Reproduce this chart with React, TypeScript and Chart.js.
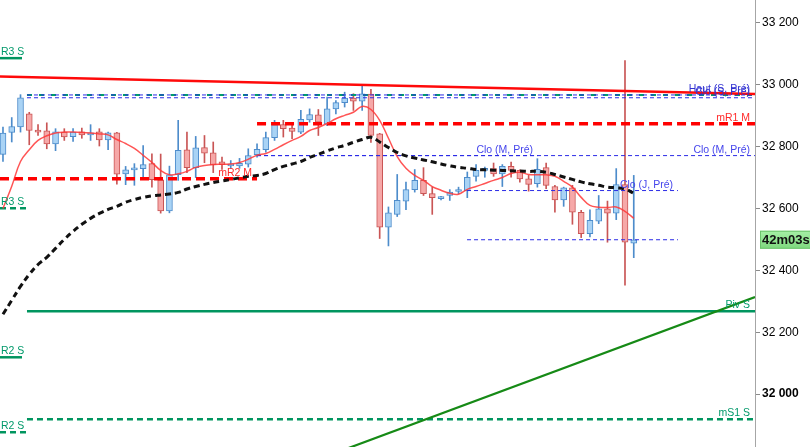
import React, { useEffect, useRef } from 'react';
import { Chart, registerables } from 'chart.js';

Chart.register(...registerables);

// ---- Candles (one per period, index = position) ----
const opens = [
  32775, 32846, 32864, 32906, 32852, 32851, 32809, 32847, 32832, 32848,
  32838, 32848, 32822, 32845, 32712, 32725, 32729, 32745, 32693, 32592,
  32709, 32790, 32732, 32797, 32780, 32751, 32738, 32738, 32743, 32774,
  32790, 32829, 32871, 32860, 32847, 32886, 32903, 32873, 32922, 32942,
  32957, 32947, 32970, 32841, 32540, 32581, 32624, 32661, 32691, 32648,
  32632, 32642, 32655, 32658, 32704, 32723, 32729, 32712, 32736, 32723,
  32696, 32680, 32732, 32671, 32628, 32667, 32588, 32519, 32559, 32599,
  32585, 32677, 32488,
];
const highs = [
  32863, 32894, 32968, 32911, 32871, 32877, 32858, 32858, 32858, 32860,
  32871, 32858, 32847, 32846, 32736, 32745, 32803, 32777, 32776, 32737,
  32885, 32847, 32833, 32836, 32815, 32766, 32755, 32762, 32793, 32809,
  32847, 32885, 32885, 32874, 32917, 32922, 32920, 32960, 32949, 32976,
  32971, 32998, 32985, 32843, 32605, 32710, 32685, 32726, 32732, 32669,
  32639, 32661, 32669, 32718, 32742, 32734, 32747, 32742, 32750, 32725,
  32707, 32761, 32747, 32675, 32669, 32675, 32594, 32596, 32642, 32624,
  32729, 33078, 32707,
];
const lows = [
  32752, 32815, 32847, 32806, 32836, 32793, 32787, 32820, 32817, 32827,
  32820, 32802, 32790, 32679, 32677, 32675, 32696, 32669, 32585, 32586,
  32691, 32716, 32700, 32748, 32716, 32726, 32729, 32730, 32734, 32766,
  32782, 32820, 32831, 32826, 32842, 32879, 32836, 32868, 32906, 32928,
  32917, 32917, 32814, 32503, 32479, 32574, 32596, 32653, 32642, 32581,
  32628, 32626, 32648, 32635, 32688, 32701, 32704, 32671, 32701, 32685,
  32656, 32669, 32664, 32588, 32607, 32549, 32506, 32508, 32551, 32491,
  32564, 32352, 32441,
];
const closes = [
  32844, 32865, 32958, 32852, 32847, 32809, 32848, 32831, 32847, 32838,
  32844, 32822, 32845, 32711, 32725, 32730, 32742, 32693, 32592, 32709,
  32788, 32732, 32796, 32779, 32741, 32742, 32743, 32746, 32771, 32791,
  32829, 32871, 32858, 32849, 32888, 32904, 32879, 32922, 32942, 32957,
  32947, 32971, 32836, 32540, 32586, 32626, 32661, 32691, 32648, 32635,
  32637, 32653, 32659, 32701, 32723, 32727, 32712, 32736, 32723, 32696,
  32678, 32727, 32675, 32628, 32667, 32588, 32519, 32562, 32599, 32585,
  32677, 32491, 32499,
];

// ---- Moving averages ----
const maFast = [
  32600, 32672, 32752, 32790, 32820, 32835, 32844, 32847, 32847, 32846,
  32844, 32841, 32838, 32823, 32810, 32794, 32772, 32749, 32723, 32709,
  32712, 32720, 32733, 32739, 32742, 32743, 32744, 32749, 32759, 32772,
  32778, 32791, 32806, 32820, 32833, 32852, 32862, 32875, 32890, 32901,
  32911, 32930, 32920, 32885, 32827, 32768, 32730, 32707, 32691, 32671,
  32659, 32649, 32646, 32662, 32671, 32681, 32691, 32700, 32713, 32717,
  32710, 32709, 32709, 32704, 32688, 32669, 32636, 32610, 32604, 32603,
  32605, 32591, 32568,
];
const maSlow = [
  32258, 32303, 32348, 32387, 32419, 32442, 32471, 32500, 32526, 32549,
  32568, 32584, 32597, 32607, 32620, 32629, 32636, 32641, 32644, 32647,
  32652, 32663, 32671, 32678, 32684, 32689, 32694, 32699, 32704, 32707,
  32713, 32726, 32736, 32744, 32752, 32765, 32775, 32786, 32796, 32804,
  32814, 32823, 32830, 32815, 32797, 32781, 32770, 32763, 32757, 32751,
  32744, 32738, 32733, 32730, 32726, 32725, 32724, 32723, 32722, 32721,
  32720, 32720, 32717, 32710, 32702, 32694, 32686, 32680, 32675, 32669,
  32667, 32663, 32649,
];

// ---- Axis ----
const yTicks = [32000, 32200, 32400, 32600, 32800, 33000, 33200];
const boldTick = 32000;
const priceMin = 31829;
const priceMax = 33274;
const indexMin = -0.34;
const indexMax = 85.84;

// ---- Pivot / reference levels ----
const levelNames = [
  'Haut (S, Pré)', '', 'Clo (S, Pré)', 'mR1 M', 'Clo (M, Pré)', 'Clo (M, Pré)',
  'mR2 M', 'Clo (J, Pré)', '', 'Piv S', 'mS1 S', 'R3 S', 'R3 S', 'R2 S', 'R2 S',
];
const levelPrices = [
  32967, 32967, 32958, 32874, 32771, 32771,
  32696, 32658, 32499, 32268, 31919, 33086, 32601, 32119, 31877,
];
const levelStarts = [
  2.74, 2.74, 2.74, 29, 29, 29,
  -0.34, 52.97, 52.97, 2.74, 2.74, -0.34, -0.34, -0.34, -0.34,
];
const levelEnds = [
  85.84, 85.84, 85.84, 85.84, 85.84, 61.07,
  29, 77.05, 77.05, 85.84, 85.84, 2.17, 2.63, 2.17, 2.63,
];

// ---- Trend lines ----
const resistIdx = [-0.34, 85.84];
const resistPrice = [33027, 32970];
const supportIdx = [39.38, 85.84];
const supportPrice = [31825, 32314];

const timerText = '42m03s';

// ---------------- styles ----------------
const FONT = "'Liberation Sans', Arial, sans-serif";
const BLUE_TXT = '#4646ec';
const GREEN_TXT = '#00996a';
type LStyle = { color: string; width: number; dash: number[]; text: string; left?: boolean };
const S_BLUE: LStyle = { color: '#2b2be6', width: 1, dash: [4, 3], text: BLUE_TXT };
const S_GREEN_TOP: LStyle = { color: '#00a06a', width: 2, dash: [5, 7], text: GREEN_TXT };
const S_RED: LStyle = { color: '#ff0000', width: 3.5, dash: [9, 5], text: '#ff2a2a' };
const S_GREEN_SOLID: LStyle = { color: '#00955f', width: 2.5, dash: [], text: GREEN_TXT };
const S_GREEN_DASH: LStyle = { color: '#00955f', width: 2.5, dash: [6, 4], text: GREEN_TXT };
const levelStyles: LStyle[] = [
  { ...S_BLUE, text: '#3232d2' }, S_GREEN_TOP, { ...S_BLUE, text: '#3232d2' }, S_RED, S_BLUE, S_BLUE,
  S_RED, S_BLUE, S_BLUE, S_GREEN_SOLID, S_GREEN_DASH,
  { ...S_GREEN_SOLID, left: true }, { ...S_GREEN_DASH, left: true },
  { ...S_GREEN_SOLID, left: true }, { ...S_GREEN_DASH, left: true },
];

const fmt = (v: number) => String(Math.round(v)).replace(/\B(?=(\d{3})+(?!\d))/g, ' ');

const overlayPlugin = {
  id: 'overlayLabels',
  afterDraw(chart: any) {
    const { ctx, scales } = chart;
    const x = scales.x;
    const y = scales.y;
    ctx.save();
    ctx.font = `10.5px ${FONT}`;
    ctx.textBaseline = 'alphabetic';
    levelNames.forEach((name, i) => {
      if (!name) return;
      const st = levelStyles[i];
      const py = y.getPixelForValue(levelPrices[i]) - 3;
      ctx.fillStyle = st.text;
      if (st.left) {
        ctx.textAlign = 'left';
        ctx.fillText(name, x.getPixelForValue(levelStarts[i]) + 1, py);
      } else {
        ctx.textAlign = 'right';
        ctx.fillText(name, x.getPixelForValue(levelEnds[i]) - 5, py);
      }
    });
    // countdown badge on the price axis
    const last = closes[closes.length - 1];
    const cy = y.getPixelForValue(last);
    const bx = chart.chartArea.right + 5;
    const bw = chart.width - bx;
    const g = ctx.createLinearGradient(0, cy - 9, 0, cy + 9);
    g.addColorStop(0, '#a6f0a6');
    g.addColorStop(1, '#7ed87e');
    ctx.fillStyle = g;
    ctx.fillRect(bx, cy - 9, bw, 18);
    ctx.strokeStyle = '#6cc46c';
    ctx.lineWidth = 1;
    ctx.strokeRect(bx + 0.5, cy - 8.5, bw, 17);
    ctx.fillStyle = '#111';
    ctx.font = `bold 13px ${FONT}`;
    ctx.textAlign = 'left';
    ctx.textBaseline = 'middle';
    ctx.fillText(timerText, bx + 2, cy + 1);
    ctx.restore();
  },
};

export default function App() {
  const ref = useRef<HTMLCanvasElement | null>(null);

  useEffect(() => {
    if (!ref.current) return;
    const up = closes.map((c, i) => c >= opens[i]);
    const bodyFill = up.map((u) => (u ? '#a9d3f5' : '#f6a8a8'));
    const bodyBorder = up.map((u) => (u ? '#4d8ccb' : '#c95555'));

    const levelSets = levelPrices.map((p, i) => ({
      type: 'line' as const,
      data: [
        { x: levelStarts[i], y: p },
        { x: levelEnds[i], y: p },
      ],
      borderColor: levelStyles[i].color,
      borderWidth: levelStyles[i].width,
      borderDash: levelStyles[i].dash,
      pointRadius: 0,
      order: 3,
    }));

    const chart = new Chart(ref.current, {
      type: 'bar',
      data: {
        datasets: [
          ...levelSets,
          {
            type: 'line',
            data: resistIdx.map((x, i) => ({ x, y: resistPrice[i] })),
            borderColor: '#ff0a0a',
            borderWidth: 2.5,
            pointRadius: 0,
            order: 2,
          },
          {
            type: 'line',
            data: supportIdx.map((x, i) => ({ x, y: supportPrice[i] })),
            borderColor: '#168a16',
            borderWidth: 2.2,
            pointRadius: 0,
            order: 2,
          },
          {
            type: 'line',
            data: maSlow.map((v, i) => ({ x: i, y: v })),
            borderColor: '#111111',
            borderWidth: 3,
            borderDash: [6, 4],
            pointRadius: 0,
            tension: 0.4,
            order: 1,
          },
          {
            type: 'line',
            data: maFast.map((v, i) => ({ x: i, y: v })),
            borderColor: 'rgba(255,55,55,0.85)',
            borderWidth: 1.5,
            pointRadius: 0,
            tension: 0.4,
            order: 1,
          },
          {
            type: 'bar',
            data: highs.map((h, i) => ({ x: i, y: [lows[i], h] })),
            backgroundColor: bodyBorder,
            borderWidth: 0,
            grouped: false,
            barThickness: 1,
            maxBarThickness: 1,
            order: 6,
          } as any,
          {
            type: 'bar',
            data: opens.map((o, i) => ({ x: i, y: [o, closes[i]] })),
            backgroundColor: bodyFill,
            borderColor: bodyBorder,
            borderWidth: 1,
            borderSkipped: false,
            grouped: false,
            barThickness: 6,
            maxBarThickness: 6,
            minBarLength: 2,
            order: 5,
          } as any,
        ],
      },
      options: {
        animation: false,
        responsive: false,
        events: [],
        layout: { padding: 0 },
        plugins: { legend: { display: false }, tooltip: { enabled: false } },
        scales: {
          x: {
            type: 'linear',
            min: indexMin,
            max: indexMax,
            offset: false,
            display: false,
            grid: { offset: false },
          },
          y: {
            type: 'linear',
            position: 'right',
            min: priceMin,
            max: priceMax,
            afterBuildTicks: (s: any) => {
              s.ticks = yTicks.map((v) => ({ value: v }));
            },
            afterFit: (s: any) => {
              s.width = 55;
              s.paddingTop = 0;
              s.paddingBottom = 0;
            },
            ticks: {
              callback: (v: any) => fmt(Number(v)),
              color: '#000',
              padding: 2,
              font: (c: any) => ({
                family: FONT,
                size: 12,
                weight: c.tick && c.tick.value === boldTick ? 'bold' : 'normal',
              }),
            },
            grid: { drawOnChartArea: false, drawTicks: true, tickLength: 5, color: '#8a8a8a' },
            border: { display: true, color: '#a6a6a6' },
          },
        },
      },
      plugins: [overlayPlugin],
    } as any);
    return () => chart.destroy();
  }, []);

  return (
    <div style={{ position: 'fixed', left: 0, top: 0, width: 810, height: 447, background: '#fff' }}>
      <canvas ref={ref} width={810} height={447} />
    </div>
  );
}
